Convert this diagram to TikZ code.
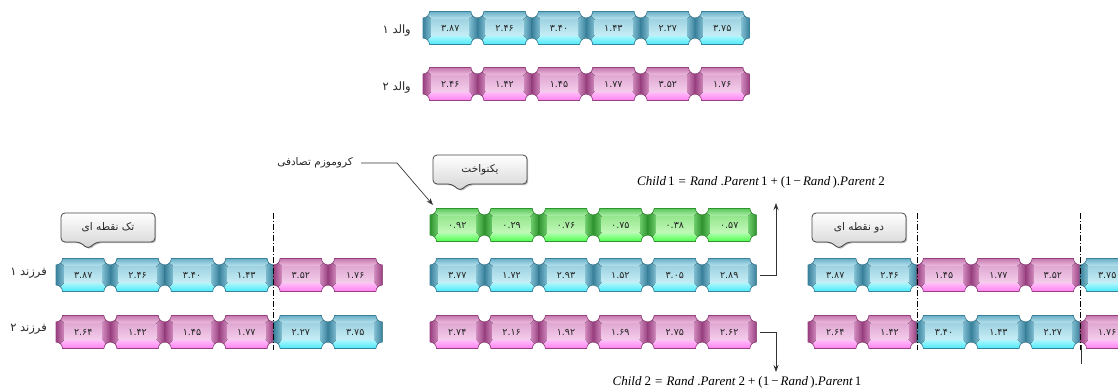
\documentclass[tikz,border=0pt]{standalone}
\usepackage{fontspec}
\usetikzlibrary{arrows.meta,shadows}
\TeXXeTstate=1
\newfontfamily\arabicfont[Script=Arabic]{DejaVu Sans}
\newfontfamily\timesf{Liberation Serif}

% palettes: b = blue, p = pink, g = green
\definecolor{bEdge}{HTML}{3A819B}
\definecolor{bSide}{HTML}{80BED2}
\definecolor{bTopA}{HTML}{6AB0C7}
\definecolor{bTopB}{HTML}{B8E4EF}
\definecolor{bInA}{HTML}{9FD2E1}
\definecolor{bInB}{HTML}{C6EEF6}
\definecolor{bBotA}{HTML}{B2F6FC}
\definecolor{bBotB}{HTML}{48EAFB}
\definecolor{pEdge}{HTML}{98407F}
\definecolor{pSide}{HTML}{D08ABD}
\definecolor{pTopA}{HTML}{C578AE}
\definecolor{pTopB}{HTML}{EDBDE0}
\definecolor{pInA}{HTML}{E0A8D2}
\definecolor{pInB}{HTML}{F4CDEB}
\definecolor{pBotA}{HTML}{FFC2F8}
\definecolor{pBotB}{HTML}{FF7FEF}
\definecolor{gEdge}{HTML}{2F932F}
\definecolor{gSide}{HTML}{6ECE6B}
\definecolor{gTopA}{HTML}{5BC85B}
\definecolor{gTopB}{HTML}{AEF0A8}
\definecolor{gInA}{HTML}{96E68E}
\definecolor{gInB}{HTML}{C2F9BA}
\definecolor{gBotA}{HTML}{B4FFB0}
\definecolor{gBotB}{HTML}{4EFF4E}

% gene cell geometry (half width, half height, notch radius, inner face)
\def\cw{54.4}
\def\ca{27.2}
\def\cb{16.5}
\def\cr{6.5}
\def\cq{4.6}
\def\ci{19}
\def\cit{-9}
\def\cib{7.5}

% one bevelled gene cell: name, x, y, palette, text
\newcommand\gene[5]{%
  \begin{scope}[shift={({#2},{#3})}]
    \colorlet{cEdge}{#4Edge}\colorlet{cSide}{#4Side}%
    \colorlet{cTopA}{#4TopA}\colorlet{cTopB}{#4TopB}%
    \colorlet{cInA}{#4InA}\colorlet{cInB}{#4InB}%
    \colorlet{cBotA}{#4BotA}\colorlet{cBotB}{#4BotB}%
    % top facet
    \fill[top color=cTopA, bottom color=cTopB]
      (-\ca+\cr,-\cb) -- (\ca-\cr,-\cb) arc[start angle=180,end angle=135,radius=\cr]
      -- (\ci,\cit) -- (-\ci,\cit) -- (-\ca+\cq,-\cb+\cq) arc[start angle=45,end angle=0,radius=\cr] -- cycle;
    % right facet
    \fill[left color=cSide, right color=cEdge]
      (\ca,-\cb+\cr) -- (\ca,\cb-\cr) arc[start angle=270,end angle=225,radius=\cr]
      -- (\ci,\cib) -- (\ci,\cit) -- (\ca-\cq,-\cb+\cq) arc[start angle=135,end angle=90,radius=\cr] -- cycle;
    % bottom facet
    \fill[top color=cBotA, bottom color=cBotB]
      (\ca-\cr,\cb) -- (-\ca+\cr,\cb) arc[start angle=0,end angle=-45,radius=\cr]
      -- (-\ci,\cib) -- (\ci,\cib) -- (\ca-\cq,\cb-\cq) arc[start angle=225,end angle=180,radius=\cr] -- cycle;
    % left facet
    \fill[left color=cEdge, right color=cSide]
      (-\ca,\cb-\cr) -- (-\ca,-\cb+\cr) arc[start angle=90,end angle=45,radius=\cr]
      -- (-\ci,\cit) -- (-\ci,\cib) -- (-\ca+\cq,\cb-\cq) arc[start angle=-45,end angle=-90,radius=\cr] -- cycle;
    % face
    \fill[top color=cInA, bottom color=cInB] (-\ci,\cit) rectangle (\ci,\cib);
    % outline
    \draw[cEdge, line width=0.6pt]
      (-\ca+\cr,-\cb) -- (\ca-\cr,-\cb) arc[start angle=180,end angle=90,radius=\cr]
      -- (\ca,\cb-\cr) arc[start angle=270,end angle=180,radius=\cr]
      -- (-\ca+\cr,\cb) arc[start angle=0,end angle=-90,radius=\cr]
      -- (-\ca,-\cb+\cr) arc[start angle=90,end angle=0,radius=\cr] -- cycle;
    \node[celltext] (#1) at (0,0) {#5};
  \end{scope}}

% a row of six cells: name prefix, centre x of first cell, y, list palette/text
\newcommand\generow[4]{%
  \foreach \p/\t [count=\i] in {#4} {\gene{#1\i}{#2+(\i-1)*\cw}{#3}{\p}{\t}}}

% speech-bubble label: name, left, top, text
\newcommand\callout[4]{%
  \draw[callbox] (#2,#3) -- ({#2+94},#3) -- ({#2+94},{#3+29}) -- ({#2+35},{#3+29})
    -- ({#2+27},{#3+36}) -- ({#2+19},{#3+29}) -- (#2,{#3+29}) -- cycle;
  \node[lbl] (#1) at ({#2+47},{#3+14.5}) {\beginR #4\endR};}

\begin{document}
\begin{tikzpicture}[x=1pt,y=-1pt,
  celltext/.style={minimum width=54.4pt, minimum height=33pt, inner sep=0pt,
    font=\arabicfont\fontsize{9.5}{10}\selectfont, text=black!85},
  lbl/.style={inner sep=0pt, font=\arabicfont\fontsize{10.5}{12}\selectfont, text=black!85},
  rowlbl/.style={lbl, font=\arabicfont\fontsize{11.5}{13}\selectfont},
  callbox/.style={rounded corners=4pt, draw=black!72, line width=0.8pt,
    top color=white, bottom color=black!17,
    drop shadow={shadow xshift=1.2pt, shadow yshift=-1.2pt, fill=black!60, opacity=0.45}},
  formula/.style={inner sep=0pt, font=\timesf\fontsize{13}{15}\selectfont},
  cutline/.style={black, line width=0.6pt, dash pattern=on 6pt off 2pt on 1pt off 2pt},
  link/.style={black!80, line width=0.7pt},
  tip/.style={-{Stealth[length=7pt,width=5pt]}}]
\useasboundingbox (0,0) rectangle (1118,391);

% parents
\generow{pa}{450.2}{28}{b/۳.۸۷, b/۲.۴۶, b/۳.۴۰, b/۱.۴۳, b/۲.۲۷, b/۳.۷۵}
\generow{pb}{450.2}{84}{p/۲.۴۶, p/۱.۴۲, p/۱.۴۵, p/۱.۷۷, p/۳.۵۲, p/۱.۷۶}
\node[rowlbl, anchor=east] (lpa) at (411,31) {\beginR والد ۱\endR};
\node[rowlbl, anchor=east] (lpb) at (411,88) {\beginR والد ۲\endR};

% single-point crossover
\callout{csp}{61}{213}{تک نقطه ای}
\generow{sa}{83.2}{275}{b/۳.۸۷, b/۲.۴۶, b/۳.۴۰, b/۱.۴۳, p/۳.۵۲, p/۱.۷۶}
\generow{sb}{83.2}{332}{p/۲.۶۴, p/۱.۴۲, p/۱.۴۵, p/۱.۷۷, b/۲.۲۷, b/۳.۷۵}
\node[rowlbl, anchor=east] (lsa) at (47,273) {\beginR فرزند ۱\endR};
\node[rowlbl, anchor=east] (lsb) at (47,329) {\beginR فرزند ۲\endR};
\coordinate (s1t) at (273.6,213);
\coordinate (s1b) at (273.6,350);
\draw[cutline] (s1t) -- (s1b);

% uniform crossover
\callout{cun}{433}{155}{یکنواخت}
\generow{ug}{457.2}{225}{g/۰.۹۲, g/۰.۲۹, g/۰.۷۶, g/۰.۷۵, g/۰.۳۸, g/۰.۵۷}
\generow{ua}{457.2}{275}{b/۳.۷۷, b/۱.۷۲, b/۲.۹۳, b/۱.۵۲, b/۳.۰۵, b/۲.۸۹}
\generow{ub}{457.2}{332}{p/۲.۷۴, p/۲.۱۶, p/۱.۹۲, p/۱.۶۹, p/۲.۷۵, p/۲.۶۲}
\node[lbl, anchor=east] (rnd) at (353,163) {\beginR کروموزم تصادفی\endR};
\coordinate (rndk) at (397,163);
\coordinate (rndt) at (433,205);
\draw[link, tip] (rnd.east) ++(8,0) -- (rndk) -- (rndt);
\coordinate (uak) at (776,275);
\coordinate (uat) at (776,203);
\coordinate (ubk) at (776,332);
\coordinate (ubt) at (776,372);
\draw[link, tip] (ua6.east) ++(3,0) -- (uak) -- (uat);
\draw[link, tip] (ub6.east) ++(3,0) -- (ubk) -- (ubt);
\node[formula] (fa) at (761,182) {\itshape Child\upshape\,1\hspace{4pt}=\hspace{4pt}\itshape Rand\upshape\ .\itshape Parent\upshape\,1\hspace{3pt}+\hspace{3pt}(1\hspace{2pt}−\hspace{2pt}\itshape Rand\upshape\,).\itshape Parent\upshape\ 2};
\node[formula] (fb) at (737,382) {\itshape Child\upshape\ 2\hspace{4pt}=\hspace{4pt}\itshape Rand\upshape\ .\itshape Parent\upshape\ 2\hspace{3pt}+\hspace{3pt}(1\hspace{2pt}−\hspace{2pt}\itshape Rand\upshape\,).\itshape Parent\upshape\,1};

% two-point crossover
\callout{ctp}{812}{213}{دو نقطه ای}
\generow{ta}{835.2}{275}{b/۳.۸۷, b/۲.۴۶, p/۱.۴۵, p/۱.۷۷, p/۳.۵۲, b/۳.۷۵}
\generow{tb}{835.2}{332}{p/۲.۶۴, p/۱.۴۲, b/۳.۴۰, b/۱.۴۳, b/۲.۲۷, p/۱.۷۶}
\coordinate (t1t) at (916.8,213);
\coordinate (t1b) at (916.8,350);
\coordinate (t2t) at (1080,213);
\coordinate (t2b) at (1080,350);
\draw[cutline] (t1t) -- (t1b);
\draw[cutline] (t2t) -- (t2b);
\coordinate (mk1) at (1081.5,345);
\coordinate (mk2) at (1081.5,364);
\draw[black!80, line width=0.6pt] (mk1) -- (mk2);
\end{tikzpicture}
\end{document}
